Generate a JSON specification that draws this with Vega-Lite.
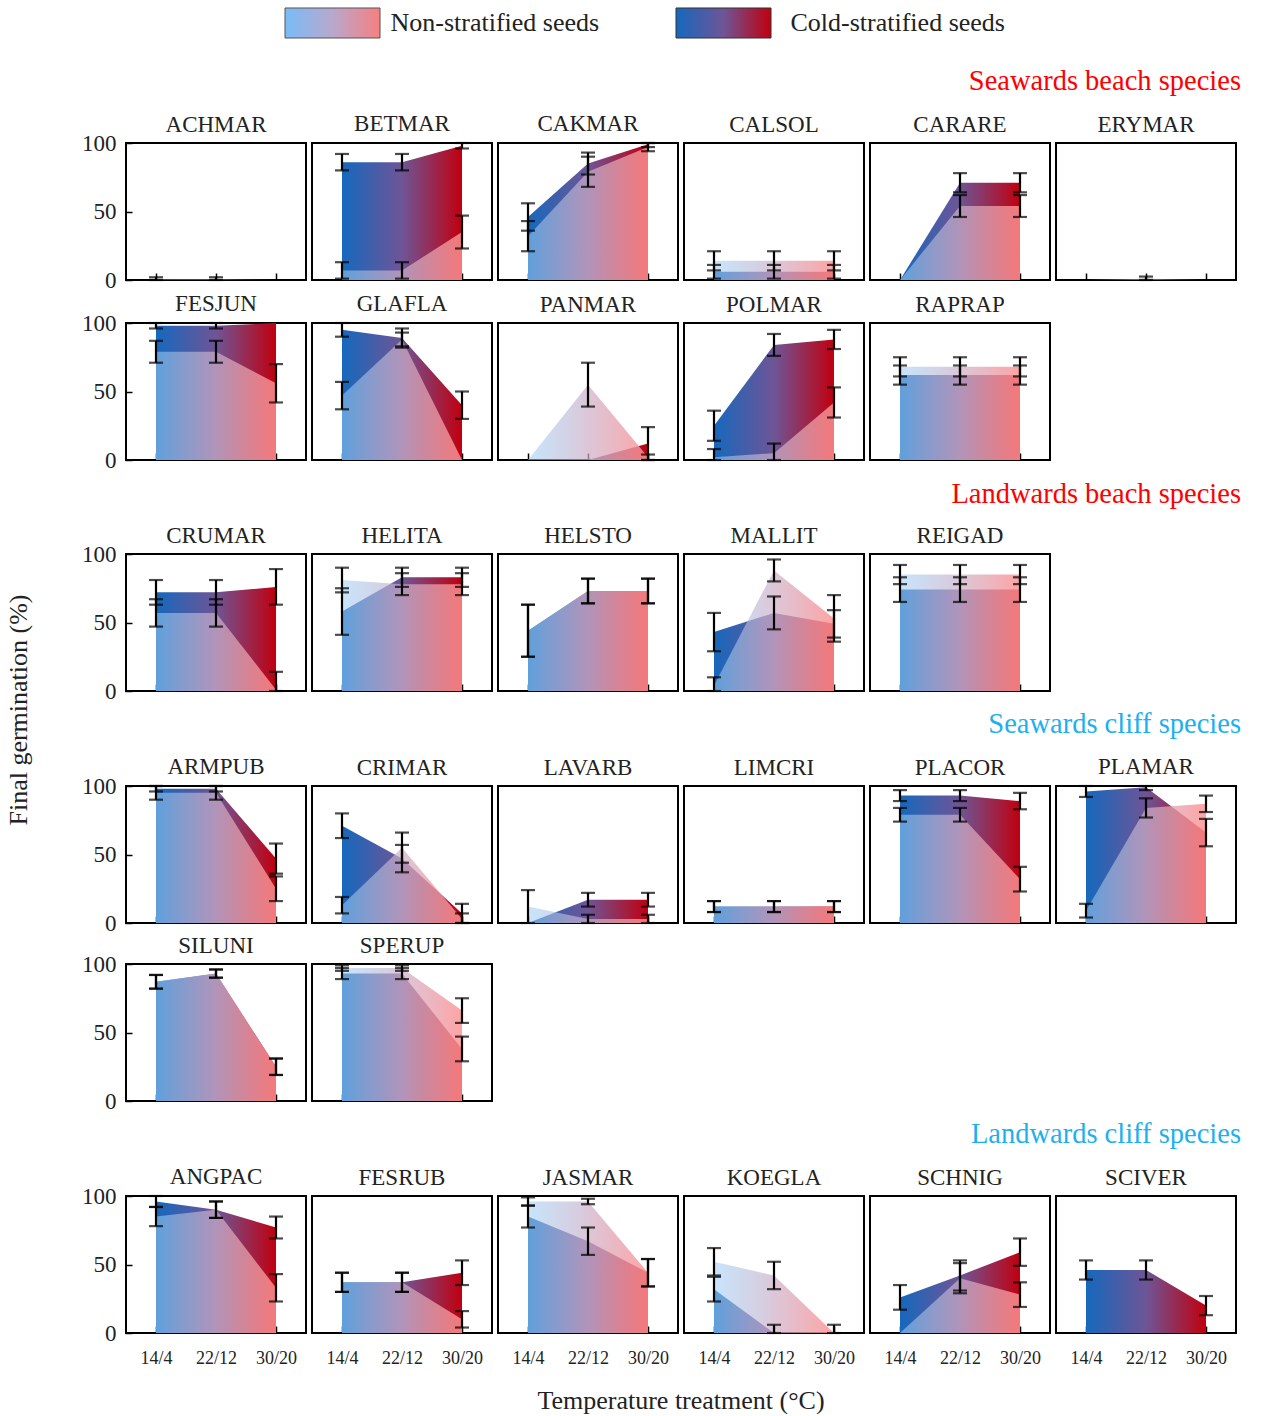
{
"$schema": "https://vega.github.io/schema/vega-lite/v6.json",
"padding": {"left": 5, "top": 5, "right": 0, "bottom": 0},
"background": "white",
"title": {"text": "Final germination (%)", "orient": "left", "anchor": "middle", "fontSize": 26, "color": "#222", "offset": 50, "font": "Liberation Serif", "fontWeight": "normal"},
"data": {"values": [
{"g":"SB","sp":"ACHMAR","t":"14/4","ns":0,"nse":0,"cs":0.5,"cse":1.5},
{"g":"SB","sp":"ACHMAR","t":"22/12","ns":0,"nse":0,"cs":0.5,"cse":1.5},
{"g":"SB","sp":"ACHMAR","t":"30/20","ns":0,"nse":0,"cs":0,"cse":0},
{"g":"SB","sp":"BETMAR","t":"14/4","ns":7,"nse":6,"cs":86,"cse":6},
{"g":"SB","sp":"BETMAR","t":"22/12","ns":7,"nse":6,"cs":86,"cse":6},
{"g":"SB","sp":"BETMAR","t":"30/20","ns":35,"nse":12,"cs":98,"cse":2},
{"g":"SB","sp":"CAKMAR","t":"14/4","ns":32,"nse":11,"cs":46,"cse":10},
{"g":"SB","sp":"CAKMAR","t":"22/12","ns":79,"nse":11,"cs":85,"cse":8},
{"g":"SB","sp":"CAKMAR","t":"30/20","ns":97,"nse":3,"cs":99,"cse":2},
{"g":"SB","sp":"CALSOL","t":"14/4","ns":14,"nse":7,"cs":6,"cse":5},
{"g":"SB","sp":"CALSOL","t":"22/12","ns":14,"nse":7,"cs":6,"cse":5},
{"g":"SB","sp":"CALSOL","t":"30/20","ns":14,"nse":7,"cs":6,"cse":5},
{"g":"SB","sp":"CARARE","t":"14/4","ns":0,"nse":0,"cs":0,"cse":0},
{"g":"SB","sp":"CARARE","t":"22/12","ns":54,"nse":8,"cs":71,"cse":7},
{"g":"SB","sp":"CARARE","t":"30/20","ns":54,"nse":8,"cs":71,"cse":7},
{"g":"SB","sp":"ERYMAR","t":"14/4","ns":0,"nse":0,"cs":0,"cse":0},
{"g":"SB","sp":"ERYMAR","t":"22/12","ns":0,"nse":0,"cs":1,"cse":1.5},
{"g":"SB","sp":"ERYMAR","t":"30/20","ns":0,"nse":0,"cs":0,"cse":0},
{"g":"SB","sp":"FESJUN","t":"14/4","ns":79,"nse":8,"cs":98,"cse":2},
{"g":"SB","sp":"FESJUN","t":"22/12","ns":79,"nse":8,"cs":98,"cse":2},
{"g":"SB","sp":"FESJUN","t":"30/20","ns":56,"nse":14,"cs":100,"cse":0},
{"g":"SB","sp":"GLAFLA","t":"14/4","ns":47,"nse":10,"cs":95,"cse":5},
{"g":"SB","sp":"GLAFLA","t":"22/12","ns":88,"nse":5,"cs":89,"cse":7},
{"g":"SB","sp":"GLAFLA","t":"30/20","ns":0,"nse":0,"cs":40,"cse":10},
{"g":"SB","sp":"PANMAR","t":"14/4","ns":0,"nse":0,"cs":0,"cse":0},
{"g":"SB","sp":"PANMAR","t":"22/12","ns":55,"nse":16,"cs":0,"cse":0},
{"g":"SB","sp":"PANMAR","t":"30/20","ns":2,"nse":2,"cs":12,"cse":12},
{"g":"SB","sp":"POLMAR","t":"14/4","ns":2,"nse":6,"cs":25,"cse":11},
{"g":"SB","sp":"POLMAR","t":"22/12","ns":5,"nse":7,"cs":84,"cse":8},
{"g":"SB","sp":"POLMAR","t":"30/20","ns":42,"nse":11,"cs":88,"cse":7},
{"g":"SB","sp":"RAPRAP","t":"14/4","ns":68,"nse":7,"cs":62,"cse":7},
{"g":"SB","sp":"RAPRAP","t":"22/12","ns":68,"nse":7,"cs":62,"cse":7},
{"g":"SB","sp":"RAPRAP","t":"30/20","ns":68,"nse":7,"cs":62,"cse":7},
{"g":"LB","sp":"CRUMAR","t":"14/4","ns":57,"nse":10,"cs":72,"cse":9},
{"g":"LB","sp":"CRUMAR","t":"22/12","ns":57,"nse":10,"cs":72,"cse":9},
{"g":"LB","sp":"CRUMAR","t":"30/20","ns":1,"nse":13,"cs":76,"cse":13},
{"g":"LB","sp":"HELITA","t":"14/4","ns":81,"nse":9,"cs":58,"cse":17},
{"g":"LB","sp":"HELITA","t":"22/12","ns":78,"nse":8,"cs":83,"cse":7},
{"g":"LB","sp":"HELITA","t":"30/20","ns":78,"nse":8,"cs":83,"cse":7},
{"g":"LB","sp":"HELSTO","t":"14/4","ns":44,"nse":19,"cs":44,"cse":19},
{"g":"LB","sp":"HELSTO","t":"22/12","ns":73,"nse":9,"cs":73,"cse":9},
{"g":"LB","sp":"HELSTO","t":"30/20","ns":73,"nse":9,"cs":73,"cse":9},
{"g":"LB","sp":"MALLIT","t":"14/4","ns":4,"nse":6,"cs":43,"cse":14},
{"g":"LB","sp":"MALLIT","t":"22/12","ns":88,"nse":8,"cs":57,"cse":12},
{"g":"LB","sp":"MALLIT","t":"30/20","ns":53,"nse":17,"cs":49,"cse":10},
{"g":"LB","sp":"REIGAD","t":"14/4","ns":85,"nse":7,"cs":74,"cse":9},
{"g":"LB","sp":"REIGAD","t":"22/12","ns":85,"nse":7,"cs":74,"cse":9},
{"g":"LB","sp":"REIGAD","t":"30/20","ns":85,"nse":7,"cs":74,"cse":9},
{"g":"SC","sp":"ARMPUB","t":"14/4","ns":95,"nse":5,"cs":98,"cse":2},
{"g":"SC","sp":"ARMPUB","t":"22/12","ns":95,"nse":5,"cs":98,"cse":2},
{"g":"SC","sp":"ARMPUB","t":"30/20","ns":25,"nse":9,"cs":47,"cse":11},
{"g":"SC","sp":"CRIMAR","t":"14/4","ns":13,"nse":6,"cs":71,"cse":9},
{"g":"SC","sp":"CRIMAR","t":"22/12","ns":55,"nse":11,"cs":47,"cse":10},
{"g":"SC","sp":"CRIMAR","t":"30/20","ns":3,"nse":4,"cs":7,"cse":7},
{"g":"SC","sp":"LAVARB","t":"14/4","ns":12,"nse":12,"cs":0,"cse":0},
{"g":"SC","sp":"LAVARB","t":"22/12","ns":3,"nse":3,"cs":17,"cse":5},
{"g":"SC","sp":"LAVARB","t":"30/20","ns":3,"nse":3,"cs":17,"cse":5},
{"g":"SC","sp":"LIMCRI","t":"14/4","ns":12,"nse":4,"cs":12,"cse":4},
{"g":"SC","sp":"LIMCRI","t":"22/12","ns":12,"nse":4,"cs":12,"cse":4},
{"g":"SC","sp":"LIMCRI","t":"30/20","ns":12,"nse":4,"cs":12,"cse":4},
{"g":"SC","sp":"PLACOR","t":"14/4","ns":79,"nse":5,"cs":93,"cse":4},
{"g":"SC","sp":"PLACOR","t":"22/12","ns":79,"nse":5,"cs":93,"cse":4},
{"g":"SC","sp":"PLACOR","t":"30/20","ns":32,"nse":9,"cs":89,"cse":6},
{"g":"SC","sp":"PLAMAR","t":"14/4","ns":9,"nse":5,"cs":96,"cse":4},
{"g":"SC","sp":"PLAMAR","t":"22/12","ns":84,"nse":7,"cs":99,"cse":2},
{"g":"SC","sp":"PLAMAR","t":"30/20","ns":87,"nse":6,"cs":66,"cse":10},
{"g":"SC","sp":"SILUNI","t":"14/4","ns":87,"nse":5,"cs":87,"cse":5},
{"g":"SC","sp":"SILUNI","t":"22/12","ns":93,"nse":3,"cs":93,"cse":3},
{"g":"SC","sp":"SILUNI","t":"30/20","ns":25,"nse":6,"cs":25,"cse":6},
{"g":"SC","sp":"SPERUP","t":"14/4","ns":97,"nse":2,"cs":93,"cse":4},
{"g":"SC","sp":"SPERUP","t":"22/12","ns":97,"nse":2,"cs":93,"cse":4},
{"g":"SC","sp":"SPERUP","t":"30/20","ns":66,"nse":9,"cs":38,"cse":9},
{"g":"LC","sp":"ANGPAC","t":"14/4","ns":85,"nse":7,"cs":96,"cse":4},
{"g":"LC","sp":"ANGPAC","t":"22/12","ns":90,"nse":6,"cs":90,"cse":6},
{"g":"LC","sp":"ANGPAC","t":"30/20","ns":33,"nse":10,"cs":77,"cse":8},
{"g":"LC","sp":"FESRUB","t":"14/4","ns":37,"nse":7,"cs":37,"cse":7},
{"g":"LC","sp":"FESRUB","t":"22/12","ns":37,"nse":7,"cs":37,"cse":7},
{"g":"LC","sp":"FESRUB","t":"30/20","ns":10,"nse":6,"cs":44,"cse":9},
{"g":"LC","sp":"JASMAR","t":"14/4","ns":96,"nse":3,"cs":85,"cse":8},
{"g":"LC","sp":"JASMAR","t":"22/12","ns":96,"nse":2,"cs":67,"cse":10},
{"g":"LC","sp":"JASMAR","t":"30/20","ns":44,"nse":10,"cs":44,"cse":10},
{"g":"LC","sp":"KOEGLA","t":"14/4","ns":52,"nse":10,"cs":32,"cse":9},
{"g":"LC","sp":"KOEGLA","t":"22/12","ns":42,"nse":10,"cs":0,"cse":6},
{"g":"LC","sp":"KOEGLA","t":"30/20","ns":0,"nse":6,"cs":0,"cse":0},
{"g":"LC","sp":"SCHNIG","t":"14/4","ns":0,"nse":0,"cs":26,"cse":9},
{"g":"LC","sp":"SCHNIG","t":"22/12","ns":40,"nse":11,"cs":42,"cse":11},
{"g":"LC","sp":"SCHNIG","t":"30/20","ns":28,"nse":9,"cs":59,"cse":10},
{"g":"LC","sp":"SCIVER","t":"14/4","ns":0,"nse":0,"cs":46,"cse":7},
{"g":"LC","sp":"SCIVER","t":"22/12","ns":0,"nse":0,"cs":46,"cse":7},
{"g":"LC","sp":"SCIVER","t":"30/20","ns":0,"nse":0,"cs":20,"cse":7}
]},
"spacing": 26,
"vconcat": [
{
 "width": 1110, "height": 30,
 "view": {"stroke": null},
 "data": {"values": [{"label": "Non-stratified seeds"}, {"label": "Cold-stratified seeds"}]},
 "encoding": {"x": {"field": "label", "type": "nominal", "scale": {"type": "point", "domain": ["Non-stratified seeds", "Cold-stratified seeds"], "range": [206.5, 597.5], "padding": 0}, "axis": null}},
 "layer": [
  {"transform": [{"filter": "datum.label === 'Non-stratified seeds'"}],
   "mark": {"type": "point", "shape": "M-1,-0.316L1,-0.316L1,0.316L-1,0.316Z", "size": 9025, "filled": true, "opacity": 1, "stroke": "#555", "strokeWidth": 1,
    "fill": {"gradient": "linear", "x1": 0, "y1": 0, "x2": 1, "y2": 0, "stops": [{"offset": 0, "color": "#78bcf8"}, {"offset": 0.5, "color": "#b8a8cc"}, {"offset": 1, "color": "#f68080"}]}}},
  {"transform": [{"filter": "datum.label === 'Cold-stratified seeds'"}],
   "mark": {"type": "point", "shape": "M-1,-0.316L1,-0.316L1,0.316L-1,0.316Z", "size": 9025, "filled": true, "opacity": 1, "stroke": "#333", "strokeWidth": 1,
    "fill": {"gradient": "linear", "x1": 0, "y1": 0, "x2": 1, "y2": 0, "stops": [{"offset": 0, "color": "#1668bd"}, {"offset": 0.5, "color": "#6e5596"}, {"offset": 1, "color": "#c0000f"}]}}},
  {"transform": [{"filter": "datum.label === 'Non-stratified seeds'"}],
   "mark": {"type": "text", "align": "left", "baseline": "middle", "dx": 58, "fontSize": 26, "font": "Liberation Serif", "color": "#222"},
   "encoding": {"text": {"field": "label"}}},
  {"transform": [{"filter": "datum.label === 'Cold-stratified seeds'"}],
   "mark": {"type": "text", "align": "left", "baseline": "middle", "dx": 67, "fontSize": 26, "font": "Liberation Serif", "color": "#222"},
   "encoding": {"text": {"field": "label"}}}
 ]
},
{
 "spacing": 7,
 "vconcat": [
   {"title": {"text": "Seawards beach species", "color": "#ff0000", "dx": 4},
    "transform": [{"filter": "datum.g === 'SB'"}],
    "columns": 6, "spacing": {"row": 8, "column": 4},
    "resolve": {"axis": {"x": "independent"}},
    "facet": {"field": "sp", "type": "nominal", "title": null},
    "spec": {"width": 180, "height": 137,
     "encoding": {"x": {"field": "t", "type": "ordinal", "scale": {"type": "point", "domain": ["14/4", "22/12", "30/20"], "padding": 0.5}, "axis": {"labels": false, "title": null}}},
     "layer": [
      {"mark": {"type": "area", "opacity": 1, "color": {"gradient": "linear", "x1": 0, "y1": 0, "x2": 1, "y2": 0, "stops": [{"offset": 0, "color": "#1668bd"}, {"offset": 0.5, "color": "#6e5596"}, {"offset": 1, "color": "#c0000f"}]}},
       "encoding": {"y": {"field": "cs", "type": "quantitative", "title": null, "scale": {"domain": [0, 100], "nice": false, "clamp": true}, "axis": {"values": [0, 25, 50, 75, 100], "labelExpr": "datum.value % 50 === 0 ? datum.label : ''", "title": null}}}},
      {"mark": {"type": "area", "opacity": 1, "color": {"gradient": "linear", "x1": 0, "y1": 0, "x2": 1, "y2": 0, "stops": [{"offset": 0, "color": "rgba(155,206,246,0.55)"}, {"offset": 0.5, "color": "rgba(205,175,200,0.7)"}, {"offset": 1, "color": "rgba(255,145,145,0.83)"}]}},
       "encoding": {"y": {"field": "ns", "type": "quantitative", "title": null, "scale": {"domain": [0, 100], "nice": false, "clamp": true}, "axis": {"values": [0, 25, 50, 75, 100], "labelExpr": "datum.value % 50 === 0 ? datum.label : ''", "title": null}}}},
      {"transform": [{"filter": "datum.cse > 0"}],
       "mark": {"type": "errorbar", "color": "black", "thickness": 2.2, "ticks": {"size": 14, "thickness": 2.2, "color": "black"}, "rule": {"strokeWidth": 2.2, "color": "black"}},
       "encoding": {"y": {"field": "cs", "type": "quantitative", "title": null}, "yError": {"field": "cse"}}},
      {"transform": [{"filter": "datum.nse > 0"}],
       "mark": {"type": "errorbar", "color": "black", "thickness": 2.2, "ticks": {"size": 14, "thickness": 2.2, "color": "black"}, "rule": {"strokeWidth": 2.2, "color": "black"}},
       "encoding": {"y": {"field": "ns", "type": "quantitative", "title": null}, "yError": {"field": "nse"}}}
     ]}},
   {"title": {"text": "Landwards  beach species", "color": "#ff0000", "dx": 190},
    "transform": [{"filter": "datum.g === 'LB'"}],
    "columns": 6, "spacing": {"row": 8, "column": 4},
    "resolve": {"axis": {"x": "independent"}},
    "facet": {"field": "sp", "type": "nominal", "title": null},
    "spec": {"width": 180, "height": 137,
     "encoding": {"x": {"field": "t", "type": "ordinal", "scale": {"type": "point", "domain": ["14/4", "22/12", "30/20"], "padding": 0.5}, "axis": {"labels": false, "title": null}}},
     "layer": [
      {"mark": {"type": "area", "opacity": 1, "color": {"gradient": "linear", "x1": 0, "y1": 0, "x2": 1, "y2": 0, "stops": [{"offset": 0, "color": "#1668bd"}, {"offset": 0.5, "color": "#6e5596"}, {"offset": 1, "color": "#c0000f"}]}},
       "encoding": {"y": {"field": "cs", "type": "quantitative", "title": null, "scale": {"domain": [0, 100], "nice": false, "clamp": true}, "axis": {"values": [0, 25, 50, 75, 100], "labelExpr": "datum.value % 50 === 0 ? datum.label : ''", "title": null}}}},
      {"mark": {"type": "area", "opacity": 1, "color": {"gradient": "linear", "x1": 0, "y1": 0, "x2": 1, "y2": 0, "stops": [{"offset": 0, "color": "rgba(155,206,246,0.55)"}, {"offset": 0.5, "color": "rgba(205,175,200,0.7)"}, {"offset": 1, "color": "rgba(255,145,145,0.83)"}]}},
       "encoding": {"y": {"field": "ns", "type": "quantitative", "title": null, "scale": {"domain": [0, 100], "nice": false, "clamp": true}, "axis": {"values": [0, 25, 50, 75, 100], "labelExpr": "datum.value % 50 === 0 ? datum.label : ''", "title": null}}}},
      {"transform": [{"filter": "datum.cse > 0"}],
       "mark": {"type": "errorbar", "color": "black", "thickness": 2.2, "ticks": {"size": 14, "thickness": 2.2, "color": "black"}, "rule": {"strokeWidth": 2.2, "color": "black"}},
       "encoding": {"y": {"field": "cs", "type": "quantitative", "title": null}, "yError": {"field": "cse"}}},
      {"transform": [{"filter": "datum.nse > 0"}],
       "mark": {"type": "errorbar", "color": "black", "thickness": 2.2, "ticks": {"size": 14, "thickness": 2.2, "color": "black"}, "rule": {"strokeWidth": 2.2, "color": "black"}},
       "encoding": {"y": {"field": "ns", "type": "quantitative", "title": null}, "yError": {"field": "nse"}}}
     ]}},
   {"title": {"text": "Seawards cliff species", "color": "#1eaff0", "dx": 4},
    "transform": [{"filter": "datum.g === 'SC'"}],
    "columns": 6, "spacing": {"row": 8, "column": 4},
    "resolve": {"axis": {"x": "independent"}},
    "facet": {"field": "sp", "type": "nominal", "title": null},
    "spec": {"width": 180, "height": 137,
     "encoding": {"x": {"field": "t", "type": "ordinal", "scale": {"type": "point", "domain": ["14/4", "22/12", "30/20"], "padding": 0.5}, "axis": {"labels": false, "title": null}}},
     "layer": [
      {"mark": {"type": "area", "opacity": 1, "color": {"gradient": "linear", "x1": 0, "y1": 0, "x2": 1, "y2": 0, "stops": [{"offset": 0, "color": "#1668bd"}, {"offset": 0.5, "color": "#6e5596"}, {"offset": 1, "color": "#c0000f"}]}},
       "encoding": {"y": {"field": "cs", "type": "quantitative", "title": null, "scale": {"domain": [0, 100], "nice": false, "clamp": true}, "axis": {"values": [0, 25, 50, 75, 100], "labelExpr": "datum.value % 50 === 0 ? datum.label : ''", "title": null}}}},
      {"mark": {"type": "area", "opacity": 1, "color": {"gradient": "linear", "x1": 0, "y1": 0, "x2": 1, "y2": 0, "stops": [{"offset": 0, "color": "rgba(155,206,246,0.55)"}, {"offset": 0.5, "color": "rgba(205,175,200,0.7)"}, {"offset": 1, "color": "rgba(255,145,145,0.83)"}]}},
       "encoding": {"y": {"field": "ns", "type": "quantitative", "title": null, "scale": {"domain": [0, 100], "nice": false, "clamp": true}, "axis": {"values": [0, 25, 50, 75, 100], "labelExpr": "datum.value % 50 === 0 ? datum.label : ''", "title": null}}}},
      {"transform": [{"filter": "datum.cse > 0"}],
       "mark": {"type": "errorbar", "color": "black", "thickness": 2.2, "ticks": {"size": 14, "thickness": 2.2, "color": "black"}, "rule": {"strokeWidth": 2.2, "color": "black"}},
       "encoding": {"y": {"field": "cs", "type": "quantitative", "title": null}, "yError": {"field": "cse"}}},
      {"transform": [{"filter": "datum.nse > 0"}],
       "mark": {"type": "errorbar", "color": "black", "thickness": 2.2, "ticks": {"size": 14, "thickness": 2.2, "color": "black"}, "rule": {"strokeWidth": 2.2, "color": "black"}},
       "encoding": {"y": {"field": "ns", "type": "quantitative", "title": null}, "yError": {"field": "nse"}}}
     ]}},
   {"title": {"text": "Landwards  cliff species", "color": "#1eaff0", "dx": 4},
    "transform": [{"filter": "datum.g === 'LC'"}],
    "columns": 6, "spacing": {"row": 8, "column": 4},
    "resolve": {"axis": {"x": "independent"}},
    "facet": {"field": "sp", "type": "nominal", "title": "Temperature treatment (°C)",
      "header": {"titleOrient": "bottom", "labelOrient": "top", "titleFontSize": 26, "titleFont": "Liberation Serif", "titleFontWeight": "normal", "titleColor": "#222", "titlePadding": 20}},
    "spec": {"width": 180, "height": 137,
     "encoding": {"x": {"field": "t", "type": "ordinal", "scale": {"type": "point", "domain": ["14/4", "22/12", "30/20"], "padding": 0.5}, "axis": {"title": null, "labelAngle": 0}}},
     "layer": [
      {"mark": {"type": "area", "opacity": 1, "color": {"gradient": "linear", "x1": 0, "y1": 0, "x2": 1, "y2": 0, "stops": [{"offset": 0, "color": "#1668bd"}, {"offset": 0.5, "color": "#6e5596"}, {"offset": 1, "color": "#c0000f"}]}},
       "encoding": {"y": {"field": "cs", "type": "quantitative", "title": null, "scale": {"domain": [0, 100], "nice": false, "clamp": true}, "axis": {"values": [0, 25, 50, 75, 100], "labelExpr": "datum.value % 50 === 0 ? datum.label : ''", "title": null}}}},
      {"mark": {"type": "area", "opacity": 1, "color": {"gradient": "linear", "x1": 0, "y1": 0, "x2": 1, "y2": 0, "stops": [{"offset": 0, "color": "rgba(155,206,246,0.55)"}, {"offset": 0.5, "color": "rgba(205,175,200,0.7)"}, {"offset": 1, "color": "rgba(255,145,145,0.83)"}]}},
       "encoding": {"y": {"field": "ns", "type": "quantitative", "title": null, "scale": {"domain": [0, 100], "nice": false, "clamp": true}, "axis": {"values": [0, 25, 50, 75, 100], "labelExpr": "datum.value % 50 === 0 ? datum.label : ''", "title": null}}}},
      {"transform": [{"filter": "datum.cse > 0"}],
       "mark": {"type": "errorbar", "color": "black", "thickness": 2.2, "ticks": {"size": 14, "thickness": 2.2, "color": "black"}, "rule": {"strokeWidth": 2.2, "color": "black"}},
       "encoding": {"y": {"field": "cs", "type": "quantitative", "title": null}, "yError": {"field": "cse"}}},
      {"transform": [{"filter": "datum.nse > 0"}],
       "mark": {"type": "errorbar", "color": "black", "thickness": 2.2, "ticks": {"size": 14, "thickness": 2.2, "color": "black"}, "rule": {"strokeWidth": 2.2, "color": "black"}},
       "encoding": {"y": {"field": "ns", "type": "quantitative", "title": null}, "yError": {"field": "nse"}}}
     ]}}
 ]
}
],
"config": {
 "view": {"stroke": "black", "strokeWidth": 2},
 "font": "Liberation Serif",
 "axis": {"domain": false, "grid": false, "tickColor": "black", "tickWidth": 1.5, "labelColor": "#222", "labelFont": "Liberation Serif", "titleFont": "Liberation Serif", "titleFontWeight": "normal", "titleColor": "#222"},
 "axisX": {"tickSize": -7, "labelPadding": 23, "labelFontSize": 18},
 "axisY": {"tickSize": -7, "labelPadding": 16, "labelFontSize": 23},
 "header": {"labelFont": "Liberation Serif", "labelFontSize": 23, "labelColor": "#222", "labelPadding": 6},
 "title": {"font": "Liberation Serif", "fontWeight": "normal", "fontSize": 28.5, "anchor": "end", "offset": 16}
}
}
